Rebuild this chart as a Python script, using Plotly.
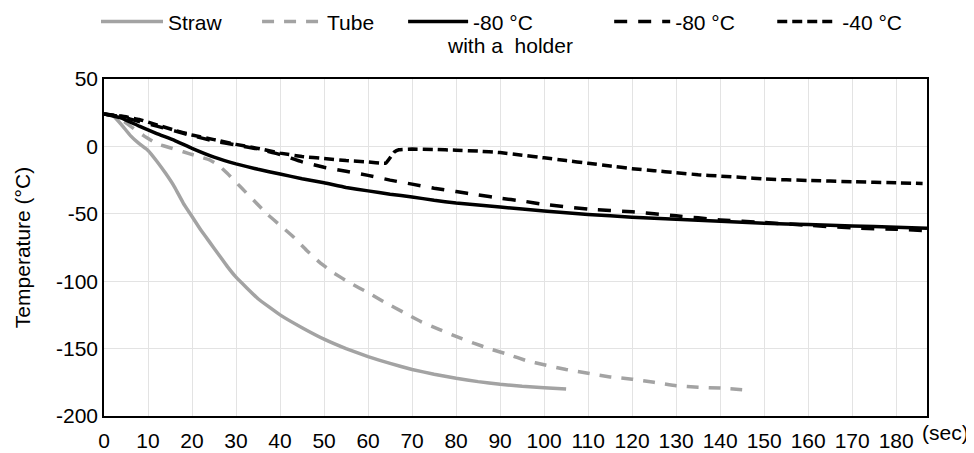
import plotly.graph_objects as go

# ---- data ----
straw_x = [0, 2, 4, 6, 8, 10, 12, 14, 16, 18, 20, 22, 24, 26, 28, 30, 35, 40, 45, 50,
           55, 60, 65, 70, 75, 80, 85, 90, 95, 100, 105]
straw_y = [24, 23, 16, 8, 2, -3, -11, -20, -30, -42, -52, -62, -71, -80, -89, -97, -113,
           -125, -134.5, -143, -150, -156, -161, -165.5, -169, -172, -174.5, -176.5,
           -178, -179, -180]

tube_x = [0, 3, 6, 9, 12, 15, 18, 21, 24, 26, 28, 31, 34, 37, 40, 43, 46, 49, 52, 56,
          60, 64, 68, 72, 76, 80, 84, 88, 92, 96, 100, 105, 110, 115, 120, 125, 130,
          135, 140, 145]
tube_y = [24, 22, 15, 8, 2, -1, -4, -7, -10, -14, -20, -30, -40, -50, -58.5, -67, -77,
          -86, -93.5, -101.5, -108.5, -116, -123, -130, -135.5, -141, -146, -150.5,
          -154.5, -159, -162, -165.5, -168.3, -171, -172.7, -175, -177.5, -178.7,
          -179.3, -180.5]

holder80_x = [0, 4, 8, 12, 16, 20, 25, 30, 35, 40, 45, 50, 55, 60, 65, 70, 75, 80, 85,
              90, 100, 110, 120, 130, 140, 150, 160, 170, 180, 187]
holder80_y = [24, 21, 15, 9.5, 4.5, -1.5, -8, -13, -17, -20.5, -24, -27, -30.5, -33,
              -35.5, -37.5, -40, -42, -43.5, -45, -48, -50.5, -52.5, -54, -55.5, -57,
              -58, -59, -60, -60.7]

m80_x = [0, 4, 8, 12, 16, 20, 25, 30, 35, 40, 45, 50, 55, 60, 65, 70, 75, 80, 85, 90,
         95, 100, 110, 120, 130, 140, 150, 160, 170, 180, 187]
m80_y = [24, 22, 18.5, 15, 11.5, 8, 4, 1, -2, -6, -11.5, -15.5, -18.5, -21.5, -25, -28,
         -31, -33.5, -36, -38.4, -40.5, -43, -46.5, -48.5, -51.5, -54.5, -56.5, -58.5,
         -60.5, -61.5, -62.5]

m40_x = [0, 4, 8, 12, 16, 20, 25, 30, 35, 40, 45, 50, 55, 60, 64, 66, 67, 70, 75, 80,
         85, 90, 95, 100, 105, 110, 115, 120, 125, 130, 135, 140, 145, 150, 160, 170,
         180, 186]
m40_y = [24, 22.5, 20, 16, 12, 8.5, 5, 1.5, -1.5, -5, -7.5, -9, -10.5, -11.5, -12.5,
         -4, -2.5, -2, -2.3, -2.8, -3.5, -4.6, -6.5, -8.5, -10.5, -12.5, -14.5, -16.5,
         -18, -19.5, -21, -22, -23, -24.2, -25.3, -26.2, -27, -27.5]

x_ticks = list(range(0, 181, 10))
y_ticks = [50, 0, -50, -100, -150, -200]

GRAY = "#A3A3A3"
FONT = "Liberation Sans, Arial, sans-serif"
OFF = 8                      # default page (body) margin of the html page
W, H = 974 - OFF, 453 - OFF  # figure size so it fills the window
L, T = 104 - OFF, 79 - OFF
PR, PB = 926.7 - OFF, 415.7 - OFF
R, B = W - PR, H - PB
pw, ph = PR - L, PB - T


def px_x(px):
    return (px - OFF - L) / pw


def px_y(py):
    return (PB - (py - OFF)) / ph


fig = go.Figure()
series = [
    ("Straw", straw_x, straw_y, GRAY, "solid", "legend", 101, 62),
    ("Tube", tube_x, tube_y, GRAY, "12px,10px", "legend2", 262, 60),
    ("-80 °C", holder80_x, holder80_y, "#000000", "solid", "legend3", 408, 60),
    ("-80 °C", m80_x, m80_y, "#000000", "13px,11px", "legend4", 614, 56),
    ("-40 °C", m40_x, m40_y, "#000000", "10px,5px", "legend5", 777, 60),
]
legends = {}
for name, xs, ys, col, dash, lg, lx, iw in series:
    fig.add_trace(go.Scatter(x=xs, y=ys, mode="lines", name=name,
                             line=dict(color=col, width=3.5, dash=dash, shape="spline",
                                       smoothing=0.3),
                             legend=lg))
    legends[lg] = dict(x=px_x(lx - 5), y=px_y(22), xanchor="left", yanchor="middle",
                       orientation="h", itemwidth=iw, bgcolor="rgba(0,0,0,0)",
                       borderwidth=0, font=dict(family=FONT, size=21, color="#000"),
                       itemclick=False)

fig.update_layout(
    width=W, height=H,
    margin=dict(l=L, r=R, t=T, b=B, autoexpand=False),
    paper_bgcolor="white", plot_bgcolor="white",
    font=dict(family=FONT, size=21, color="#000"),
    showlegend=True,
    **legends,
)
fig.update_xaxes(range=[0, 187], tickvals=x_ticks, ticktext=[str(v) for v in x_ticks],
                 showgrid=True, gridcolor="#E3E3E3", gridwidth=1,
                 showline=True, linecolor="#000", linewidth=1.5, mirror=True,
                 ticks="outside", ticklen=5, tickcolor="rgba(0,0,0,0)",
                 zeroline=False, tickfont=dict(size=21, family=FONT))
fig.update_yaxes(range=[-200, 50], tickvals=y_ticks, ticktext=[str(v) for v in y_ticks],
                 showgrid=True, gridcolor="#E3E3E3", gridwidth=1,
                 showline=True, linecolor="#000", linewidth=1.5, mirror=True,
                 ticks="", zeroline=False, tickfont=dict(size=21, family=FONT),
                 title=dict(text="Temperature (°C)", font=dict(size=21, family=FONT),
                            standoff=20))
fig.add_annotation(text="with a  holder", xref="paper", yref="paper",
                   x=px_x(510), y=px_y(46), xanchor="center", yanchor="middle",
                   showarrow=False, font=dict(size=21, family=FONT, color="#000"))
fig.add_annotation(text="(sec)", xref="paper", yref="paper",
                   x=px_x(921), y=px_y(432), xanchor="left", yanchor="middle",
                   showarrow=False, borderpad=0,
                   font=dict(size=21, family=FONT, color="#000"))

fig.write_html("out.html")
